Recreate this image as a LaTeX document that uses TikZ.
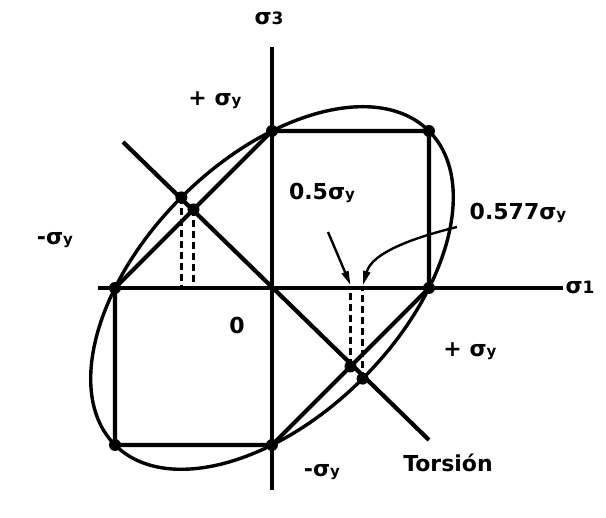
\documentclass[tikz,border=0pt]{standalone}
\usepackage{fontspec}
\setmainfont{DejaVu Sans}
\usetikzlibrary{arrows.meta}
\newcommand{\sgy}{σ{\fontsize{15}{15}\selectfont y}}
\begin{document}
\begin{tikzpicture}[x=1pt,y=1pt,
  axis/.style={line width=4.6pt},
  edge/.style={line width=4.2pt},
  ell/.style={line width=3.4pt},
  dash line/.style={line width=2.6pt,dash pattern=on 7pt off 4pt},
  dot/.style={circle,fill=black,inner sep=0pt,minimum size=12pt},
  lbl/.style={font=\fontsize{22}{22}\bfseries\selectfont,inner sep=0pt},
  arr/.style={line width=2.4pt,-{Triangle[length=14pt,width=7pt]}}]
\useasboundingbox (-272,-230) rectangle (334,288);
% axes
\coordinate (xl) at (-174,0);
\coordinate (xr) at (291,0);
\coordinate (yt) at (0,241);
\coordinate (yb) at (0,-202);
\draw[axis] (xl) -- (xr);
\draw[axis] (yb) -- (yt);
% hexagon vertices
\node[dot] (A) at (157,0) {};
\node[dot] (B) at (157,157) {};
\node[dot] (C) at (0,157) {};
\node[dot] (D) at (-157,0) {};
\node[dot] (E) at (-157,-157) {};
\node[dot] (F) at (0,-157) {};
\draw[edge,line join=round] (A.center) -- (B.center) -- (C.center) -- (D.center) -- (E.center) -- (F.center) -- cycle;
% ellipse
\draw[ell,rotate=45] (0,0) ellipse [x radius=222, y radius=128.2];
% torsion line
\coordinate (t1) at (-149,146);
\coordinate (t2) at (157,-152);
\draw[edge] (t1) -- (t2);
% intersections
\node[dot] (P1) at (-78.5,78.5) {};
\node[dot] (P2) at (-90.6,90.6) {};
\node[dot] (P3) at (78.5,-78.5) {};
\node[dot] (P4) at (90.6,-90.6) {};
\coordinate (Q1) at (-78.5,0);
\coordinate (Q2) at (-90.6,0);
\coordinate (Q3) at (78.5,0);
\coordinate (Q4) at (90.6,0);
\draw[dash line] (P1.center) -- (Q1);
\draw[dash line] (P2.center) -- (Q2);
\draw[dash line] (P3.center) -- (Q3);
\draw[dash line] (P4.center) -- (Q4);
% labels
\node[lbl] (s3) at (-3,270) {σ{\fontsize{17}{17}\selectfont 3}};
\node[lbl] (s1) at (308,1) {σ{\fontsize{17}{17}\selectfont 1}};
\node[lbl] (py) at (-57,188) {+ \sgy};
\node[lbl] (my) at (-217,48) {-\sgy};
\node[lbl] (l05) at (50,95) {0.5\sgy};
\node[lbl] (l577) at (246,75) {0.577\sgy};
\node[lbl] (zero) at (-35,-37) {0};
\node[lbl] (py2) at (198,-63) {+ \sgy};
\node[lbl] (tor) at (176,-175) {Torsión};
\node[lbl] (my2) at (50,-184) {-\sgy};
% arrows
\coordinate (a1s) at (56,56);
\coordinate (a1e) at (78.5,3);
\draw[arr] (a1s) -- (a1e);
\coordinate (a2s) at (185,61);
\coordinate (a2e) at (91,3);
\draw[arr] (a2s) .. controls (140,50) and (100,35) .. (a2e);
\end{tikzpicture}
\end{document}
